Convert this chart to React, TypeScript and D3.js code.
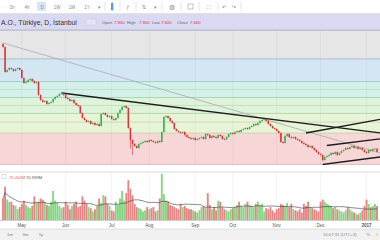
import React from "react";
import * as d3 from "d3";

// ---- data ----
const firstOpen = 16.28;
const closes = [
  16.04, 14.04, 14.2, 14.36, 14.28, 14.12, 14.28, 14.36, 14.2, 13.56,
  13.16, 13.24, 13.4, 13.48, 13.32, 13.16, 13.24, 12.2, 11.8, 11.64,
  11.72, 11.48, 11.56, 11.64, 11.88, 12.04, 12.12, 12.28, 12.36, 12.2,
  11.96, 11.88, 11.72, 11.8, 11.56, 11.4, 11.32, 10.76, 10.36, 10.2,
  10.04, 10.12, 9.88, 9.96, 9.8, 9.88, 9.72, 10.68, 10.76, 10.6,
  10.44, 10.52, 10.28, 10.2, 10.36, 10.76, 11.0, 11.24, 11.32, 11.16,
  9.56, 8.6, 8.28, 8.12, 7.96, 8.28, 8.36, 8.44, 8.52, 8.44,
  8.6, 8.52, 8.44, 8.36, 8.52, 8.44, 9.24, 10.44, 10.52, 10.36,
  10.12, 9.96, 9.48, 9.32, 9.24, 9.16, 9.24, 9.0, 8.84, 8.76,
  8.68, 8.76, 8.6, 8.68, 8.76, 8.84, 8.68, 9.08, 9.0, 8.76,
  8.92, 8.84, 8.76, 9.0, 8.92, 8.68, 8.66, 8.84, 9.08, 9.16,
  9.08, 9.24, 9.32, 9.24, 9.4, 9.48, 9.56, 9.48, 9.64, 9.72,
  9.88, 9.8, 9.96, 10.12, 10.2, 10.28, 10.12, 9.88, 9.72, 9.56,
  9.48, 9.32, 9.16, 8.44, 8.36, 8.92, 9.08, 8.84, 8.76, 8.84,
  8.68, 8.6, 8.52, 8.36, 8.28, 8.2, 8.04, 8.12, 7.96, 7.8,
  7.64, 7.48, 7.4, 7.0, 7.24, 7.32, 7.4, 7.56, 7.48, 7.64,
  7.4, 7.56, 7.72, 7.8, 7.96, 7.88, 8.04, 8.12, 7.96, 8.04,
  7.88, 7.96, 7.8, 7.64, 7.56, 7.8, 7.72, 7.88, 7.9, 7.66,
];
const longWicks = [
  { i: 61, low: 7.9 },
  { i: 62, low: 7.4 },
  { i: 153, low: 6.9 },
];
const volumes = [
  80, 124, 76, 68, 68, 56, 52, 40, 48, 60,
  72, 56, 48, 44, 52, 88, 64, 68, 80, 76,
  68, 56, 52, 68, 108, 72, 64, 52, 44, 48,
  68, 56, 40, 52, 60, 68, 48, 52, 88, 72,
  60, 48, 44, 32, 40, 52, 80, 64, 92, 88,
  60, 52, 36, 32, 68, 56, 80, 108, 72, 100,
  148, 116, 92, 60, 48, 44, 40, 32, 36, 48,
  40, 44, 48, 32, 36, 80, 172, 96, 72, 68,
  56, 52, 48, 44, 40, 60, 48, 52, 44, 40,
  40, 36, 32, 28, 36, 48, 52, 44, 100, 56,
  40, 48, 36, 72, 68, 48, 40, 36, 32, 40,
  44, 48, 56, 68, 52, 48, 60, 68, 56, 52,
  48, 60, 68, 56, 60, 32, 44, 40, 48, 36,
  28, 40, 44, 60, 56, 52, 64, 48, 60, 40,
  36, 32, 40, 28, 60, 52, 68, 48, 44, 40,
  36, 32, 68, 76, 68, 60, 56, 52, 44, 48,
  40, 36, 32, 28, 36, 48, 40, 32, 28, 24,
  20, 28, 36, 52, 76, 60, 48, 52, 60, 52,
];
const monthLabels = ["May", "Jun", "Jul", "Aug", "Sep", "Oct", "Nov", "Dec", "2017"];
const monthIdx = [9, 30, 52, 70, 92, 110, 131, 152, 174];
const fibLow = 6.6;
const fibHigh = 17.4;
const fibLevels = [0, 0.236, 0.318, 0.382, 0.441, 0.5, 0.56, 0.618, 0.786, 1];
const trendLines = [
  { a: [0, 16.36], b: [179, 7.64], thin: true },
  { a: [28, 12.36], b: [179, 9.2], thin: false },
  { a: [145, 9.16], b: [179, 10.2], thin: false },
  { a: [155, 8.16], b: [179, 8.66], thin: false },
  { a: [153, 6.64], b: [179, 7.21], thin: false },
];
const toolbarItems = ["1h", "4h", "D", "1W", "1M", "1Y"];
const rangeButtons = ["1m", "3m", "1y"];
const legendTitle = "A.O., Türkiye, D, İstanbul";
const ohlcLabels = ["Open", "High", "Low", "Close"];
const ohlcValues = ["7.900", "7.900", "7.600", "7.660"];
const volLegend = ["76.464M", "70.993M"];

// ---- styles ----
const bandFill = ["#f6d6d6", "#e8f4d8", "#e8f4d8", "#def3da", "#def3da", "#d5f0e9", "#d5f0e9", "#d5e6f3", "#e6e6e6"];
const levelStroke = ["#dcaaaa", "#d2cfae", "#c9ddb4", "#b6d9ac", "#c3e2b9", "#a9d7bd", "#b9e1d4", "#a2cfcc", "#a9bdd5", "#b5b5b5"];
const UP = "#2fb34a";
const DOWN = "#dc3338";
const FONT = "'Liberation Sans', Arial, sans-serif";

export default function App() {
  const n = closes.length;
  const x = d3.scaleLinear().domain([0, n - 1]).range([3, 377]);
  const yP = d3.scaleLinear().domain([fibLow, fibHigh]).range([165, 30]);
  const yV = d3.scaleLinear().domain([0, 160]).range([220, 177]);
  const fibPrice = (l: number) => fibLow + (fibHigh - fibLow) * l;

  const opens = closes.map((c, i) => (i === 0 ? firstOpen : closes[i - 1]));
  const volMA = volumes.map((_, i) => d3.mean(volumes.slice(Math.max(0, i - 19), i + 1)) as number);
  const maLine = d3
    .line<number>()
    .x((_, i) => x(i))
    .y((d) => yV(d))(volMA) as string;

  const bw = 1.5;

  return (
    <svg
      width={380}
      height={240}
      style={{ position: "fixed", left: 0, top: 0, background: "#fff", fontFamily: FONT }}
    >
      <defs>
        <clipPath id="pp">
          <rect x={0} y={30} width={380} height={135} />
        </clipPath>
        <clipPath id="vp">
          <rect x={0} y={172.5} width={380} height={48} />
        </clipPath>
      </defs>

      {/* fib bands */}
      <g clipPath="url(#pp)">
        {fibLevels.slice(0, -1).map((l, k) => {
          const y1 = yP(fibPrice(fibLevels[k + 1]));
          const y0 = yP(fibPrice(l));
          return <rect key={k} x={0} y={y1} width={380} height={y0 - y1} fill={bandFill[k]} />;
        })}
        {fibLevels.map((l, k) => (
          <line
            key={k}
            x1={0}
            x2={380}
            y1={yP(fibPrice(l))}
            y2={yP(fibPrice(l))}
            stroke={levelStroke[k]}
            strokeWidth={1}
          />
        ))}
        {monthIdx.map((m, k) => (
          <line key={k} x1={x(m)} x2={x(m)} y1={30} y2={165} stroke="#000" strokeOpacity={0.04} />
        ))}

        {/* trend lines */}
        {trendLines.map((t, k) => {
          const x1 = x(t.a[0]);
          const y1 = yP(t.a[1]);
          const x2 = x(t.b[0]);
          const y2 = yP(t.b[1]);
          const s = (y2 - y1) / (x2 - x1);
          const xe = 380;
          return (
            <line
              key={k}
              x1={x1}
              y1={y1}
              x2={xe}
              y2={y1 + s * (xe - x1)}
              stroke={t.thin ? "#a9a9b4" : "#1c1c1c"}
              strokeWidth={t.thin ? 0.8 : 1.3}
            />
          );
        })}

        {/* candles */}
        {closes.map((c, i) => {
          const o = opens[i];
          const up = c >= o;
          const col = up ? UP : DOWN;
          const top = Math.max(o, c);
          const bot = Math.min(o, c);
          const w = longWicks.find((d) => d.i === i);
          const hi = top + 0.05;
          const lo = w ? w.low : bot - 0.05;
          const yt = yP(top);
          const yb = yP(bot);
          return (
            <g key={i}>
              <line x1={x(i)} x2={x(i)} y1={yP(hi)} y2={yP(lo)} stroke={col} strokeWidth={0.6} />
              <rect x={x(i) - bw / 2} y={yt} width={bw} height={Math.max(0.8, yb - yt)} fill={col} />
            </g>
          );
        })}
      </g>

      {/* top toolbar */}
      <rect x={0} y={0} width={380} height={13.5} fill="#fff" />
      <line x1={0} x2={380} y1={13.5} y2={13.5} stroke="#e2e2e2" />
      <rect x={37} y={2} width={9} height={9} fill="#d6e6f7" rx={1} />
      {toolbarItems.map((t, k) => (
        <text key={k} x={12 + k * 15} y={9} fontSize={4.5} fill="#8a8a8a" textAnchor="middle">
          {t}
        </text>
      ))}
      <text x={99} y={9} fontSize={4.5} fill="#8a8a8a" textAnchor="middle">▾</text>
      <line x1={105} x2={105} y1={2} y2={11} stroke="#e6e6e6" />
      <rect x={111} y={3} width={2.4} height={7} fill="#5b9be0" rx={0.5} />
      <line x1={112.2} x2={112.2} y1={2} y2={11} stroke="#5b9be0" strokeWidth={0.6} />
      <line x1={120} x2={120} y1={2} y2={11} stroke="#e6e6e6" />
      <text x={128} y={9} fontSize={5} fill="#8a8a8a" textAnchor="middle">ƒ</text>
      <line x1={136} x2={136} y1={2} y2={11} stroke="#e6e6e6" />
      <text x={144} y={9} fontSize={5} fill="#8a8a8a" textAnchor="middle">⇅</text>
      <text x={155} y={9} fontSize={4.5} fill="#8a8a8a" textAnchor="middle">▾</text>
      <line x1={162} x2={162} y1={2} y2={11} stroke="#e6e6e6" />
      <text x={172} y={9.5} fontSize={6.5} fill="#8a8a8a" textAnchor="middle">⚙</text>
      <line x1={181} x2={181} y1={2} y2={11} stroke="#e6e6e6" />
      <rect x={188} y={4} width={5} height={5} fill="none" stroke="#999" strokeWidth={0.6} />
      <line x1={199} x2={199} y1={2} y2={11} stroke="#e6e6e6" />
      <text x={209} y={9} fontSize={5} fill="#8a8a8a" textAnchor="middle">⛶</text>
      <line x1={218} x2={218} y1={2} y2={11} stroke="#e6e6e6" />
      <text x={224} y={9} fontSize={5} fill="#8a8a8a" textAnchor="middle">↶</text>
      <text x={234} y={9} fontSize={5} fill="#8a8a8a" textAnchor="middle">↷</text>
      <line x1={241} x2={241} y1={2} y2={11} stroke="#e6e6e6" />

      {/* legend bar */}
      <rect x={0} y={14} width={380} height={16} fill="#d9d9f2" />
      <line x1={0} x2={380} y1={30} y2={30} stroke="#b6b6dc" />
      <text x={1} y={24.5} fontSize={6.8} fill="#333">
        {legendTitle}
      </text>
      <rect x={86} y={19} width={10} height={6} fill="#e6e6f6" stroke="#c4c4e2" strokeWidth={0.5} />
      <text x={91} y={23.5} fontSize={4} fill="#888" textAnchor="middle">···</text>
      {ohlcLabels.map((l, k) => (
        <g key={k}>
          <text x={102 + k * 25} y={23.5} fontSize={4.2} fill="#666">
            {l}
          </text>
          <text x={102 + k * 25 + (k === 3 ? 13 : k === 2 ? 9 : 12)} y={23.5} fontSize={4.2} fill="#e0303a">
            {ohlcValues[k]}
          </text>
        </g>
      ))}

      {/* volume pane */}
      <line x1={0} x2={380} y1={172} y2={172} stroke="#dadada" />
      {monthIdx.map((m, k) => (
        <line key={k} x1={x(m)} x2={x(m)} y1={172} y2={220} stroke="#000" strokeOpacity={0.05} />
      ))}
      <g clipPath="url(#vp)">
        {volumes.map((v, i) => {
          const up = closes[i] >= opens[i];
          return (
            <rect
              key={i}
              x={x(i) - 0.95}
              y={yV(v)}
              width={1.9}
              height={yV(0) - yV(v)}
              fill={up ? "#84d784" : "#e68585"}
            />
          );
        })}
        <path d={maLine} fill="none" stroke="#3a3a3a" strokeWidth={0.6} />
      </g>
      <rect x={2} y={174.5} width={4} height={4} fill="#fff" stroke="#bbb" strokeWidth={0.5} />
      <text x={9} y={178.5} fontSize={4.2} fill="#e06b6b">
        {volLegend[0]}
      </text>
      <text x={26} y={178.5} fontSize={4.2} fill="#555">
        {volLegend[1]}
      </text>

      {/* x axis */}
      <line x1={0} x2={380} y1={220.5} y2={220.5} stroke="#cfcfcf" />
      {monthLabels.map((m, k) => (
        <text
          key={k}
          x={x(monthIdx[k])}
          y={227}
          fontSize={4.6}
          fill="#555"
          textAnchor="middle"
          fontWeight={m === "2017" ? "bold" : "normal"}
        >
          {m}
        </text>
      ))}

      {/* bottom toolbar */}
      <rect x={0} y={229} width={380} height={11} fill="#f1f1f1" />
      <line x1={0} x2={380} y1={229} y2={229} stroke="#dedede" />
      {rangeButtons.map((r, k) => (
        <text key={k} x={10 + k * 15.5} y={235.5} fontSize={4.2} fill="#777" textAnchor="middle">
          {r}
        </text>
      ))}
      <text x={323} y={235.5} fontSize={4.2} fill="#888">
        16:07:31 (UTC+3)
      </text>
      <text x={368} y={235.5} fontSize={4.2} fill="#888" textAnchor="middle">%</text>
      <text x={377} y={235.5} fontSize={4.2} fill="#888" textAnchor="middle">l</text>
    </svg>
  );
}
